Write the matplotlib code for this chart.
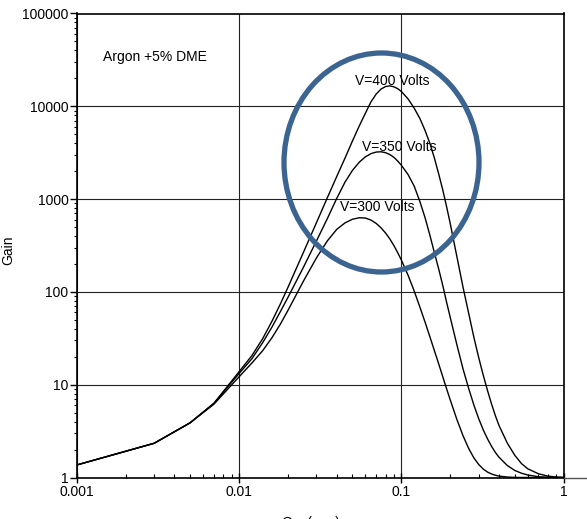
import numpy as np
import matplotlib
matplotlib.use("Agg")
import matplotlib.pyplot as plt
from matplotlib.patches import Ellipse
from matplotlib.lines import Line2D
from matplotlib.ticker import LogLocator, FixedLocator, FixedFormatter, NullFormatter

plt.rcParams['font.family'] = ['Liberation Sans', 'DejaVu Sans']

# Gap (mm) sample points shared by all curves
gap_mm = [0.001, 0.003, 0.005, 0.007, 0.01, 0.012, 0.014, 0.016, 0.018, 0.02,
          0.025, 0.03, 0.035, 0.04, 0.045, 0.05, 0.055, 0.06, 0.065, 0.07,
          0.075, 0.08, 0.085, 0.09, 0.095, 0.1, 0.11, 0.12, 0.13, 0.14,
          0.15, 0.16, 0.17, 0.18, 0.19, 0.2, 0.22, 0.24, 0.26, 0.28,
          0.30, 0.32, 0.34, 0.36, 0.38, 0.40, 0.45, 0.5, 0.55, 0.6,
          0.7, 0.8, 0.9, 1.0]

# log10(gain) for each applied voltage
log_gain_400 = [0.135, 0.369, 0.59, 0.80, 1.14, 1.314, 1.498, 1.689, 1.873, 2.048,
                2.431, 2.747, 3.015, 3.244, 3.443, 3.627, 3.787, 3.924, 4.048, 4.132,
                4.186, 4.213, 4.22, 4.21, 4.19, 4.16, 4.08, 3.98, 3.87, 3.74,
                3.60, 3.44, 3.27, 3.10, 2.92, 2.74, 2.38, 2.05, 1.77, 1.51,
                1.29, 1.10, 0.935, 0.79, 0.665, 0.56, 0.37, 0.24, 0.15, 0.095,
                0.04, 0.015, 0.005, 0.0]
log_gain_350 = [0.135, 0.369, 0.59, 0.80, 1.12, 1.28, 1.455, 1.625, 1.79, 1.94,
                2.27, 2.55, 2.79, 3.008, 3.184, 3.31, 3.397, 3.455, 3.49, 3.507,
                3.51, 3.50, 3.48, 3.45, 3.41, 3.365, 3.265, 3.14, 2.976, 2.80,
                2.61, 2.42, 2.246, 2.07, 1.89, 1.728, 1.43, 1.17, 0.96, 0.78,
                0.632, 0.512, 0.415, 0.335, 0.269, 0.218, 0.129, 0.076, 0.046, 0.0275,
                0.008, 0.002, 0.0, 0.0]
log_gain_300 = [0.135, 0.369, 0.59, 0.79, 1.085, 1.234, 1.368, 1.51, 1.655, 1.80,
                2.12, 2.367, 2.55, 2.674, 2.744, 2.783, 2.799, 2.796, 2.774, 2.738,
                2.69, 2.634, 2.57, 2.499, 2.422, 2.344, 2.18, 2.01, 1.838, 1.675,
                1.516, 1.365, 1.223, 1.087, 0.957, 0.838, 0.625, 0.45, 0.313, 0.211,
                0.14, 0.09, 0.058, 0.038, 0.024, 0.015, 0.005, 0.001, 0.0, 0.0,
                0.0, 0.0, 0.0, 0.0]

curve_labels = ["V=400 Volts", "V=350 Volts", "V=300 Volts"]

x_ticks = [0.001, 0.01, 0.1, 1]
x_tick_labels = ["0.001", "0.01", "0.1", "1"]
y_ticks = [1, 10, 100, 1000, 10000, 100000]
y_tick_labels = ["1", "10", "100", "1000", "10000", "100000"]

W, H = 587, 519
fig = plt.figure(figsize=(W / 100, H / 100), dpi=100)
ax = fig.add_axes([76.8 / W, 1 - 477.5 / H, 486.8 / W, 464 / H])

for lg in (log_gain_400, log_gain_350, log_gain_300):
    ax.plot(gap_mm, np.power(10.0, lg), color='black', lw=1.0)

ax.set_xscale('log')
ax.set_yscale('log')
ax.set_xlim(0.001, 1)
ax.set_ylim(1, 100000)

ax.xaxis.set_major_locator(FixedLocator(x_ticks))
ax.xaxis.set_major_formatter(FixedFormatter(x_tick_labels))
ax.xaxis.set_minor_locator(LogLocator(base=10, subs=np.arange(2, 10), numticks=20))
ax.xaxis.set_minor_formatter(NullFormatter())
ax.yaxis.set_major_locator(FixedLocator(y_ticks))
ax.yaxis.set_major_formatter(FixedFormatter(y_tick_labels))
ax.yaxis.set_minor_locator(LogLocator(base=10, subs=np.arange(2, 10), numticks=20))
ax.yaxis.set_minor_formatter(NullFormatter())

ax.tick_params(axis='x', which='major', direction='inout', length=7, width=1,
               labelsize=10, pad=2)
ax.tick_params(axis='x', which='minor', direction='in', length=3, width=0.8)
ax.tick_params(axis='y', which='major', direction='out', length=5, width=1,
               labelsize=10, pad=1)
ax.tick_params(axis='y', which='minor', direction='out', length=2.5, width=0.8)

ax.grid(True, which='major', color='#222222', lw=0.8)
for side in ax.spines.values():
    side.set_linewidth(1.2)

ax.set_ylabel("Gain", fontsize=10)
ax.yaxis.set_label_coords(-0.127, 0.49)
ax.set_xlabel("Gap(mm)", fontsize=10)
ax.xaxis.set_label_coords(0.48, -0.082)

# baseline continues past the right edge of the frame
fig.add_artist(Line2D([563.6 / W, 1.0], [1 - 477.5 / H] * 2, color='#555555', lw=1.0))

ax.text(103 / W, 1 - 57 / H, "Argon +5% DME", transform=fig.transFigure,
        fontsize=10, va='center', ha='left')
label_pos = [(355, 81), (362, 147), (340, 207)]
for txt, (px, py) in zip(curve_labels, label_pos):
    ax.text(px / W, 1 - py / H, txt, transform=fig.transFigure,
            fontsize=10, va='center', ha='left')

ring = Ellipse((381.5 / W, 1 - 162.5 / H), 195 / W, 219 / H,
               transform=fig.transFigure, fill=False, edgecolor='#3B6491',
               lw=3.8, clip_on=False)
fig.add_artist(ring)

fig.savefig("out.png", dpi=100)
